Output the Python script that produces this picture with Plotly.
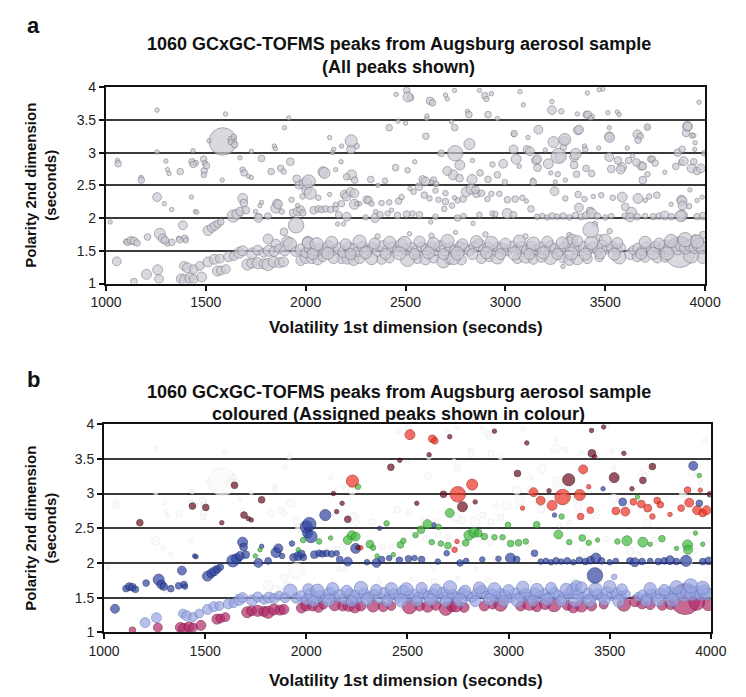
import plotly.graph_objects as go

# ---------------- data: (retention 1st dim s, retention 2nd dim s, peak size) ----------------
band_upper = [  # light blue (upper part of the aliphatic band)
    (1203,1.14,9),(1259,1.21,9),(1390,1.27,8),(1408,1.24,9),(1440,1.22,8),(1470,1.27,8),
    (1511,1.33,9),(1543,1.37,9),(1570,1.38,8),(1614,1.41,9),(1640,1.42,8),(1668,1.47,10),
    (1685,1.50,9),(1732,1.46,10),(1760,1.51,9),(1790,1.47,8),(1815,1.50,10),(1842,1.49,9),
    (1866,1.53,8),(1895,1.50,9),(1921,1.60,12),(1950,1.49,9),(1975,1.52,10),(2000,1.47,9),
    (2022,1.55,11),(2045,1.50,9),(2070,1.53,10),(2095,1.49,9),(2115,1.56,11),(2140,1.51,9),
    (2165,1.54,10),(2190,1.48,10),(2215,1.56,9),(2240,1.52,11),(2262,1.49,9),(2285,1.56,10),
    (2310,1.51,9),(2335,1.55,9),(2360,1.50,10),(2385,1.57,10),(2410,1.52,9),(2433,1.55,10),
    (2457,1.50,9),(2480,1.59,11),(2505,1.52,10),(2530,1.55,9),(2555,1.50,10),(2580,1.56,9),
    (2605,1.52,10),(2628,1.55,10),(2652,1.50,9),(2675,1.57,10),(2700,1.52,11),(2723,1.55,9),
    (2748,1.50,10),(2772,1.57,9),(2795,1.53,10),(2820,1.50,9),(2845,1.56,10),(2868,1.59,11),
    (2890,1.52,9),(2915,1.55,10),(2940,1.51,9),(2962,1.56,9),(2985,1.53,10),(3010,1.50,9),
    (3035,1.56,10),(3058,1.52,9),(3082,1.55,11),(3105,1.51,9),(3130,1.56,10),(3153,1.52,9),
    (3177,1.55,10),(3200,1.51,9),(3225,1.57,10),(3248,1.53,9),(3272,1.50,10),(3295,1.56,9),
    (3320,1.61,12),(3335,1.67,10),(3345,1.54,10),(3368,1.50,9),(3392,1.56,10),(3415,1.52,9),
    (3440,1.55,10),(3462,1.51,9),(3487,1.57,11),(3510,1.53,9),(3533,1.56,10),(3557,1.52,9),
    (3580,1.55,8),(3640,1.51,8),(3662,1.54,9),(3685,1.50,9),(3707,1.55,10),(3730,1.52,9),
    (3752,1.56,10),(3775,1.53,9),(3798,1.57,11),(3820,1.53,10),(3843,1.58,11),(3865,1.54,12),
    (3885,1.60,13),(3905,1.55,12),(3928,1.58,11),(3948,1.54,10),(3968,1.59,12),(3985,1.55,11),
    (3522,1.80,5),
    (2010,1.62,10),(2055,1.60,12),(2130,1.63,11),(2200,1.60,10),(2270,1.64,12),(2345,1.61,10),
    (2420,1.63,11),(2495,1.62,12),(2570,1.64,10),(2640,1.61,11),(2710,1.65,12),(2785,1.60,10),
    (2855,1.64,11),(2930,1.62,12),(3000,1.61,10),(3070,1.65,11),(3140,1.61,12),(3210,1.64,10),
    (3285,1.62,11),(3360,1.65,10),(3430,1.62,12),(3500,1.66,11),(3560,1.62,10),(3700,1.63,11),
    (3770,1.61,10),(3830,1.65,12),(3900,1.67,13),(3960,1.64,12),
    (2035,1.45,10),(2110,1.46,11),(2225,1.45,10),(2300,1.47,11),(2400,1.45,10),(2470,1.46,12),
    (2545,1.45,10),(2615,1.47,11),(2690,1.45,10),(2760,1.46,12),(2835,1.45,10),(2905,1.47,11),
    (2975,1.45,10),(3045,1.46,12),(3120,1.45,10),(3190,1.47,11),(3260,1.45,10),(3330,1.46,12),
    (3400,1.45,11),(3475,1.46,10),(3545,1.45,11),(3680,1.45,10),(3740,1.46,11),(3810,1.46,12),
]
band_lower = [  # magenta (lower part of the band)
    (1140,1.03,6),(1266,1.07,8),(1377,1.07,9),(1395,1.05,10),(1420,1.08,9),(1440,1.07,8),
    (1479,1.10,9),(1558,1.19,9),(1575,1.20,8),(1600,1.22,8),(1708,1.29,10),(1730,1.31,9),
    (1760,1.31,10),(1790,1.30,9),(1811,1.29,11),(1840,1.33,10),(1870,1.32,9),(1889,1.33,9),
    (1976,1.35,9),(2000,1.39,10),(2030,1.38,9),(2060,1.36,9),(2085,1.40,8),(2180,1.38,9),
    (2210,1.39,11),(2240,1.36,10),(2270,1.38,9),(2380,1.37,9),(2420,1.38,8),(2560,1.38,9),
    (2600,1.37,10),(2640,1.39,9),(2690,1.34,12),(2720,1.37,9),(2780,1.36,9),(2880,1.38,9),
    (2920,1.40,8),(3060,1.38,9),(3104,1.43,14),(3140,1.37,9),(3290,1.39,9),(3320,1.36,10),
    (3410,1.38,9),(3470,1.40,8),(3625,1.45,10),(3660,1.41,9),(3700,1.40,9),(3760,1.39,9),
    (3800,1.40,9),(3873,1.48,28),(3987,1.40,11),
    (2510,1.37,13),(2740,1.39,12),(2960,1.40,12),(3225,1.40,13),(3360,1.38,11),(3570,1.40,12),
    (2140,1.39,10),(2330,1.38,11),(3180,1.41,10),(3930,1.43,14),
]
dark_blue = [
    (1054,1.34,8),(1109,1.63,6),(1125,1.66,7),(1140,1.65,7),(1155,1.62,6),(1208,1.71,6),
    (1270,1.76,10),(1283,1.69,8),(1295,1.66,7),(1330,1.63,6),(1369,1.67,6),(1385,1.89,8),
    (1395,1.69,6),(1400,1.66,5),(1448,2.10,4),(1455,2.09,4),(1511,1.81,9),(1530,1.85,8),
    (1545,1.88,8),(1560,1.91,7),(1575,1.94,6),(1637,2.03,11),(1655,2.06,9),(1672,2.10,8),
    (1685,2.30,9),(1690,2.23,7),(1700,2.12,7),(1763,2.00,8),(1779,2.24,4),(1811,2.03,6),
    (1850,2.15,9),(1862,2.21,8),(1880,2.10,5),(1929,2.28,5),(1937,2.08,7),(1960,2.10,8),
    (1975,2.13,7),(1985,2.08,6),(2000,2.52,11),(2006,2.43,9),(2015,2.56,12),(2023,2.38,11),
    (2040,2.12,7),(2063,2.14,6),(2080,2.13,6),(2094,2.69,10),(2100,2.14,6),(2125,2.13,6),
    (2150,2.14,5),(2165,2.05,6),(2205,2.02,8),(2244,2.21,9),(2300,2.01,5),(2347,2.00,8),
    (2372,2.05,6),(2410,2.07,5),(2460,2.04,6),(2505,2.06,6),(2535,2.07,5),(2570,2.05,6),
    (2631,2.55,4),(2362,2.50,4),(2650,2.02,5),(2694,2.14,5),(2760,2.00,6),(2790,2.03,5),
    (2870,2.05,5),(2950,2.06,5),(3009,2.07,9),(3040,2.05,6),(3128,2.14,6),(3159,2.02,5),
    (3185,2.03,5),(3210,2.01,5),(3235,2.03,6),(3260,2.02,5),(3290,2.03,6),(3320,2.01,5),
    (3350,2.04,6),(3380,2.02,6),(3405,2.04,7),(3427,1.82,14),(3432,2.07,9),(3460,2.03,6),
    (3500,2.01,5),(3530,2.03,5),(3564,2.88,7),(3227,2.69,4),(3467,3.07,4),(3600,2.03,6),
    (3624,2.01,8),(3660,2.02,6),(3700,2.03,5),(3740,2.02,6),(3770,2.03,6),(3798,2.04,8),
    (3830,2.02,6),(3877,2.03,10),(3913,3.40,8),(3943,2.86,6),(3960,2.02,6),(3990,2.03,7),
]
green = [
    (1771,2.19,4),(1748,2.10,4),(1960,2.19,4),(1984,2.33,5),(2063,2.31,5),(2120,2.36,4),
    (2205,2.33,8),(2225,2.40,8),(2244,2.38,8),(2255,3.10,5),(2315,2.27,7),(2330,2.22,5),
    (2350,2.10,4),(2397,2.57,5),(2430,2.12,4),(2465,2.26,6),(2480,2.32,5),(2540,2.40,5),
    (2567,2.48,7),(2599,2.56,8),(2620,2.30,5),(2654,2.52,5),(2665,2.28,5),(2700,2.25,6),
    (2709,2.72,8),(2788,2.29,6),(2804,2.40,9),(2828,2.44,9),(2850,2.43,7),(2880,2.38,6),
    (2930,2.37,5),(2970,2.37,5),(2997,2.55,5),(3010,2.28,6),(3049,2.29,6),(3085,2.31,5),
    (3139,2.55,6),(3246,2.41,8),(3262,2.67,5),(3300,2.30,5),(3364,2.36,6),(3396,2.29,5),
    (3440,2.33,4),(3538,2.31,5),(3585,2.32,9),(3637,2.95,4),(3664,2.30,9),(3700,2.27,4),
    (3758,2.35,6),(3830,2.21,4),(3885,2.26,9),(3887,2.19,8),(3924,2.43,4),(3943,3.26,4),
    (3960,2.27,4),
]
red = [
    (2228,3.18,11),(2512,3.85,9),(2623,3.79,7),(2635,3.76,6),(2733,2.19,5),(2745,2.31,4),
    (2749,2.99,14),(2820,3.13,10),(3069,2.79,4),(3123,3.02,8),(3159,2.90,8),(3215,2.83,9),
    (3267,2.95,14),(3352,2.98,10),(3369,3.35,8),(3396,3.10,4),(3404,2.76,6),(3356,2.67,6),
    (3530,2.75,7),(3577,2.74,8),(3617,2.88,6),(3656,2.85,7),(3688,2.79,7),(3711,2.67,5),
    (3735,2.90,6),(3750,2.84,6),(3798,2.70,4),(3853,2.79,6),(3885,3.05,6),(3893,2.87,8),
    (3932,2.76,8),(3948,3.05,4),(3960,2.72,7),(3979,2.76,8),(2270,2.22,4),
]
maroon = [
    (1177,2.58,6),(1437,2.82,6),(1503,2.80,6),(1582,2.58,4),(1645,3.12,6),(1692,2.69,6),
    (1713,2.64,4),(1728,2.62,4),(1779,2.91,6),(2134,3.00,4),(2150,2.74,4),(2177,2.86,4),
    (2205,2.63,6),(2255,2.22,4),(2418,3.38,6),(2462,3.48,4),(2546,2.86,4),(2607,3.56,4),
    (2678,2.99,6),(2709,3.82,4),(2772,2.81,9),(2835,2.88,4),(2930,3.90,4),(3044,3.29,6),
    (3090,3.73,4),(3200,3.04,4),(3297,3.20,11),(3412,3.58,7),(3426,3.53,4),(3410,3.91,4),
    (3470,3.96,4),(3522,3.23,9),(3570,3.58,4),(3610,3.07,4),(3664,3.19,6),(3711,3.39,6),
    (3995,2.99,5),
]
unassigned = [
    (1585,3.17,25),(1628,3.20,6),(1640,3.24,5),(1625,3.16,5),(1516,3.18,4),(1256,3.65,4),
    (1599,3.59,4),(1915,3.53,4),(1894,3.38,4),(1256,3.01,4),(1436,3.03,4),(1728,3.02,4),
    (1843,3.10,4),(1848,3.06,4),(1671,2.92,4),(1058,2.88,4),(1061,2.83,6),(1300,2.87,4),
    (1431,2.86,6),(1450,2.84,5),(1489,2.90,6),(1495,2.84,5),(1492,2.72,6),(1490,2.66,5),
    (1308,2.74,4),(1316,2.68,4),(1372,2.71,6),(1176,2.62,4),(1684,2.74,5),(1827,2.71,6),
    (1875,2.76,6),(1890,2.71,5),(1923,2.86,7),(1968,2.51,8),(1955,2.60,7),(1256,2.32,8),
    (1292,2.22,4),(1329,2.13,4),(1428,2.32,4),(1021,1.94,4),(1101,1.64,5),(1308,1.61,5),
    (1364,1.69,4),(1764,2.02,6),(1856,2.22,8),(1891,1.79,7),(1952,1.89,14),(1812,1.68,9),
    (1851,1.60,9),(1907,1.64,10),(2011,1.64,10),(2160,1.91,4),(2190,1.91,4),(2453,3.89,4),
    (2506,3.95,6),(2525,3.84,6),(2700,3.88,4),(2745,3.95,4),(2870,3.95,4),(2897,3.87,6),
    (2905,3.82,5),(2810,3.63,4),(2817,3.58,6),(2913,3.58,6),(2960,3.52,4),(2606,3.52,4),
    (2730,3.47,4),(2500,3.45,4),(2602,3.25,6),(2746,3.38,6),(2120,3.23,4),(2180,3.10,4),
    (2140,3.05,4),(2227,3.05,8),(2086,2.71,9),(2230,2.66,9),(2245,2.58,6),(2326,2.59,6),
    (2450,2.77,6),(2510,2.73,5),(2586,2.59,7),(2640,2.58,6),(2738,2.66,9),(2770,2.61,7),
    (2833,2.59,9),(2873,2.69,6),(2913,2.59,6),(2989,2.83,8),(2960,2.66,6),(2935,2.82,5),
    (2195,2.36,8),(2179,2.22,6),(2150,2.20,5),(2306,2.28,7),(2380,2.23,5),(2418,2.24,5),
    (2522,2.45,4),(2594,2.35,6),(2650,2.42,5),(2700,2.38,5),(2760,2.27,5),(2855,2.37,7),
    (2910,2.29,5),(2935,2.07,5),(2626,1.94,4),(2838,1.92,4),(3073,3.93,4),(3233,3.78,4),
    (3233,3.65,8),(3280,3.63,5),(3360,3.59,4),(3405,3.58,6),(3433,3.55,5),(3513,3.61,4),
    (3560,3.62,4),(3487,3.97,4),(3041,3.28,4),(3165,3.35,8),(3113,3.23,4),(3241,3.16,10),
    (3296,3.18,8),(3290,3.08,6),(3363,3.34,8),(3520,3.38,4),(3520,3.25,8),(3661,3.28,8),
    (3675,3.25,6),(3712,3.38,4),(3911,3.40,9),(3905,3.30,7),(3935,3.26,5),(3950,3.15,4),
    (3970,3.77,4),(3041,3.05,8),(3108,3.05,7),(3054,2.90,9),(3153,2.88,8),(3161,2.77,7),
    (3272,2.93,9),(3344,2.93,8),(3344,2.81,7),(3400,3.05,5),(3432,2.68,6),(3520,2.93,8),
    (3584,2.78,8),(3680,2.80,8),(3728,2.90,6),(3863,3.00,7),(3880,2.85,5),(3688,2.58,7),
    (3137,2.58,4),(3105,2.26,4),(3250,2.55,4),(3300,2.58,4),(3600,2.17,7),(3632,2.09,9),
    (3368,2.16,8),(3424,2.11,7),(3448,1.91,5),(3288,1.26,4),(3884,2.04,10),(3880,2.28,8),
    (3480,2.35,5),(3720,2.33,5),(3920,2.18,5),(3985,2.32,4),(2630,1.73,5),(2900,1.75,5),
    (3100,1.72,5),(3470,1.70,6),(3990,1.74,7),(3950,1.68,8),(2360,1.72,5),(2520,1.76,4),
    (2750,1.78,4),(3320,1.74,5),
]

x_ticks = [1000, 1500, 2000, 2500, 3000, 3500, 4000]
y_ticks = [1, 1.5, 2, 2.5, 3, 3.5, 4]

title_line1 = "1060 GCxGC-TOFMS peaks from Augsburg aerosol sample"
title_a2 = "(All peaks shown)"
title_b2 = "coloured (Assigned peaks shown in colour)"
x_title = "Volatility 1st dimension (seconds)"
y_title = "Polarity 2nd dimension<br>(seconds)"

# ---------------- figure ----------------
W, H = 746, 697
SIZE_SCALE = 1.1

def px(v):
    return v / W

def py(v):
    return 1 - v / H

def cols(data):
    return ([d[0] for d in data], [d[1] for d in data],
            [d[2] * SIZE_SCALE for d in data])

fig = go.Figure()

# panel a: all peaks in grey
all_groups = [unassigned, band_lower, band_upper, dark_blue, green, red, maroon]
for g in all_groups:
    xs, ys, ss = cols(g)
    fig.add_trace(go.Scatter(
        x=xs, y=ys, mode="markers", xaxis="x", yaxis="y", showlegend=False,
        marker=dict(size=ss, color="#cacbd4", line=dict(color="#86868f", width=1)),
        hoverinfo="skip"))

# panel b: coloured by assignment
styles = [
    (unassigned, "#fafafa", "#ececec"),
    (band_lower, "#b22a68", "#7c1846"),
    (band_upper, "#98a6e2", "#6f7fbf"),
    (dark_blue, "#2f45a3", "#1b2a6e"),
    (green, "#3fba3c", "#288a28"),
    (red, "#ef3324", "#ad1e15"),
    (maroon, "#6e1020", "#3e0610"),
]
for g, fc, lc in styles:
    xs, ys, ss = cols(g)
    fig.add_trace(go.Scatter(
        x=xs, y=ys, mode="markers", xaxis="x2", yaxis="y2", showlegend=False,
        marker=dict(size=ss, color=fc, line=dict(color=lc, width=1)),
        hoverinfo="skip"))

tf = "Liberation Sans, Arial, sans-serif"
axis_common = dict(showline=True, mirror=True, linecolor="#111", linewidth=2,
                   ticks="outside", ticklen=5, tickwidth=1.5, tickcolor="#111",
                   tickfont=dict(family=tf, size=14, color="#222"),
                   zeroline=False)
xa = dict(axis_common, range=[1000, 4000], tickvals=x_ticks, showgrid=False)
ya = dict(axis_common, range=[1, 4], tickvals=y_ticks, showgrid=True,
          gridcolor="#3a3a3a", gridwidth=1.6)

fig.update_layout(
    width=W, height=H, margin=dict(l=0, r=0, t=0, b=0),
    paper_bgcolor="white", plot_bgcolor="white",
    xaxis=dict(xa, domain=[px(94), px(720)], anchor="y"),
    yaxis=dict(ya, domain=[py(282), py(81)], anchor="x"),
    xaxis2=dict(xa, domain=[px(92), px(726)], anchor="y2"),
    yaxis2=dict(ya, domain=[py(639), py(426)], anchor="x2"),
)

ann = []

def add(text, x, y, size, angle=0):
    ann.append(dict(text="<b>%s</b>" % text, x=px(x), y=py(y),
                    xref="paper", yref="paper", showarrow=False, textangle=angle,
                    xanchor="center", yanchor="middle",
                    font=dict(family=tf, size=size, color="#111")))

add("a", 18, 18, 22)
add(title_line1, 400, 37, 18)
add(title_a2, 400, 60, 18)
add(x_title, 408, 327, 17)
add(y_title, 26, 181, 15, angle=-90)

add("b", 18, 380, 22)
add(title_line1, 400, 393, 18)
add(title_b2, 400, 416, 18)
add(x_title, 408, 688, 17)
add(y_title, 26, 532, 15, angle=-90)

fig.update_layout(annotations=ann)
fig.write_html("out.html")
